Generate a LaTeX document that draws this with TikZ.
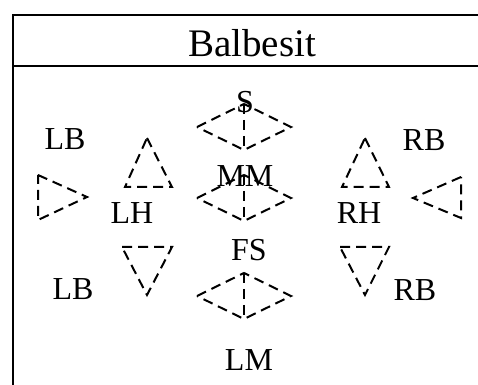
\documentclass[tikz,border=0pt]{standalone}
\usepackage{fontspec}
\setmainfont{Liberation Serif}
\begin{document}
\begin{tikzpicture}[x=0.5pt,y=-0.5pt,
    frame/.style={line width=1.2pt},
    posmark/.style={dash pattern=on 5pt off 3pt, line width=1pt},
    poslabel/.style={font=\fontsize{16}{19}\selectfont, inner sep=0pt}]
    \useasboundingbox (0,0) rectangle (478,385);
    % frame with title bar
    \draw[frame] (478,15) -- (13,15) -- (13,385);
    \draw[frame] (13,66) -- (478,66);
    \node[font=\fontsize{19.5}{23}\selectfont, inner sep=0pt] (title) at (252,43) {Balbesit};
    % middle column: diamonds with a dashed centre line
    \foreach \name/\y in {top/127, mid/198, low/296} {
        \coordinate (\name) at (244,\y);
        \draw[posmark] (\name) +(-47,0) -- +(0,-23) -- +(47,0) -- +(0,23) -- cycle;
        \draw[posmark] (\name) +(0,-23) -- +(0,23);
    }
    % left side triangles
    \draw[posmark] (38,175) -- (87,197) -- (38,220) -- cycle;
    \draw[posmark] (147,138) -- (172,187) -- (125,187) -- cycle;
    \draw[posmark] (122,247) -- (172,247) -- (147,295) -- cycle;
    % right side triangles
    \draw[posmark] (365,138) -- (389,187) -- (342,187) -- cycle;
    \draw[posmark] (461,177) -- (413,198) -- (461,218) -- cycle;
    \draw[posmark] (340,247) -- (389,247) -- (365,295) -- cycle;
    % position names
    \node[poslabel] (s) at (245,102) {S};
    \node[poslabel] (mm) at (245,176) {MM};
    \node[poslabel] (fs) at (249,250) {FS};
    \node[poslabel] (lm) at (249,360) {LM};
    \node[poslabel] (lbtop) at (65,139) {LB};
    \node[poslabel] (lh) at (132,213) {LH};
    \node[poslabel] (lblow) at (73,289) {LB};
    \node[poslabel] (rbtop) at (424,140) {RB};
    \node[poslabel] (rh) at (359,213) {RH};
    \node[poslabel] (rblow) at (415,290) {RB};
\end{tikzpicture}
\end{document}
